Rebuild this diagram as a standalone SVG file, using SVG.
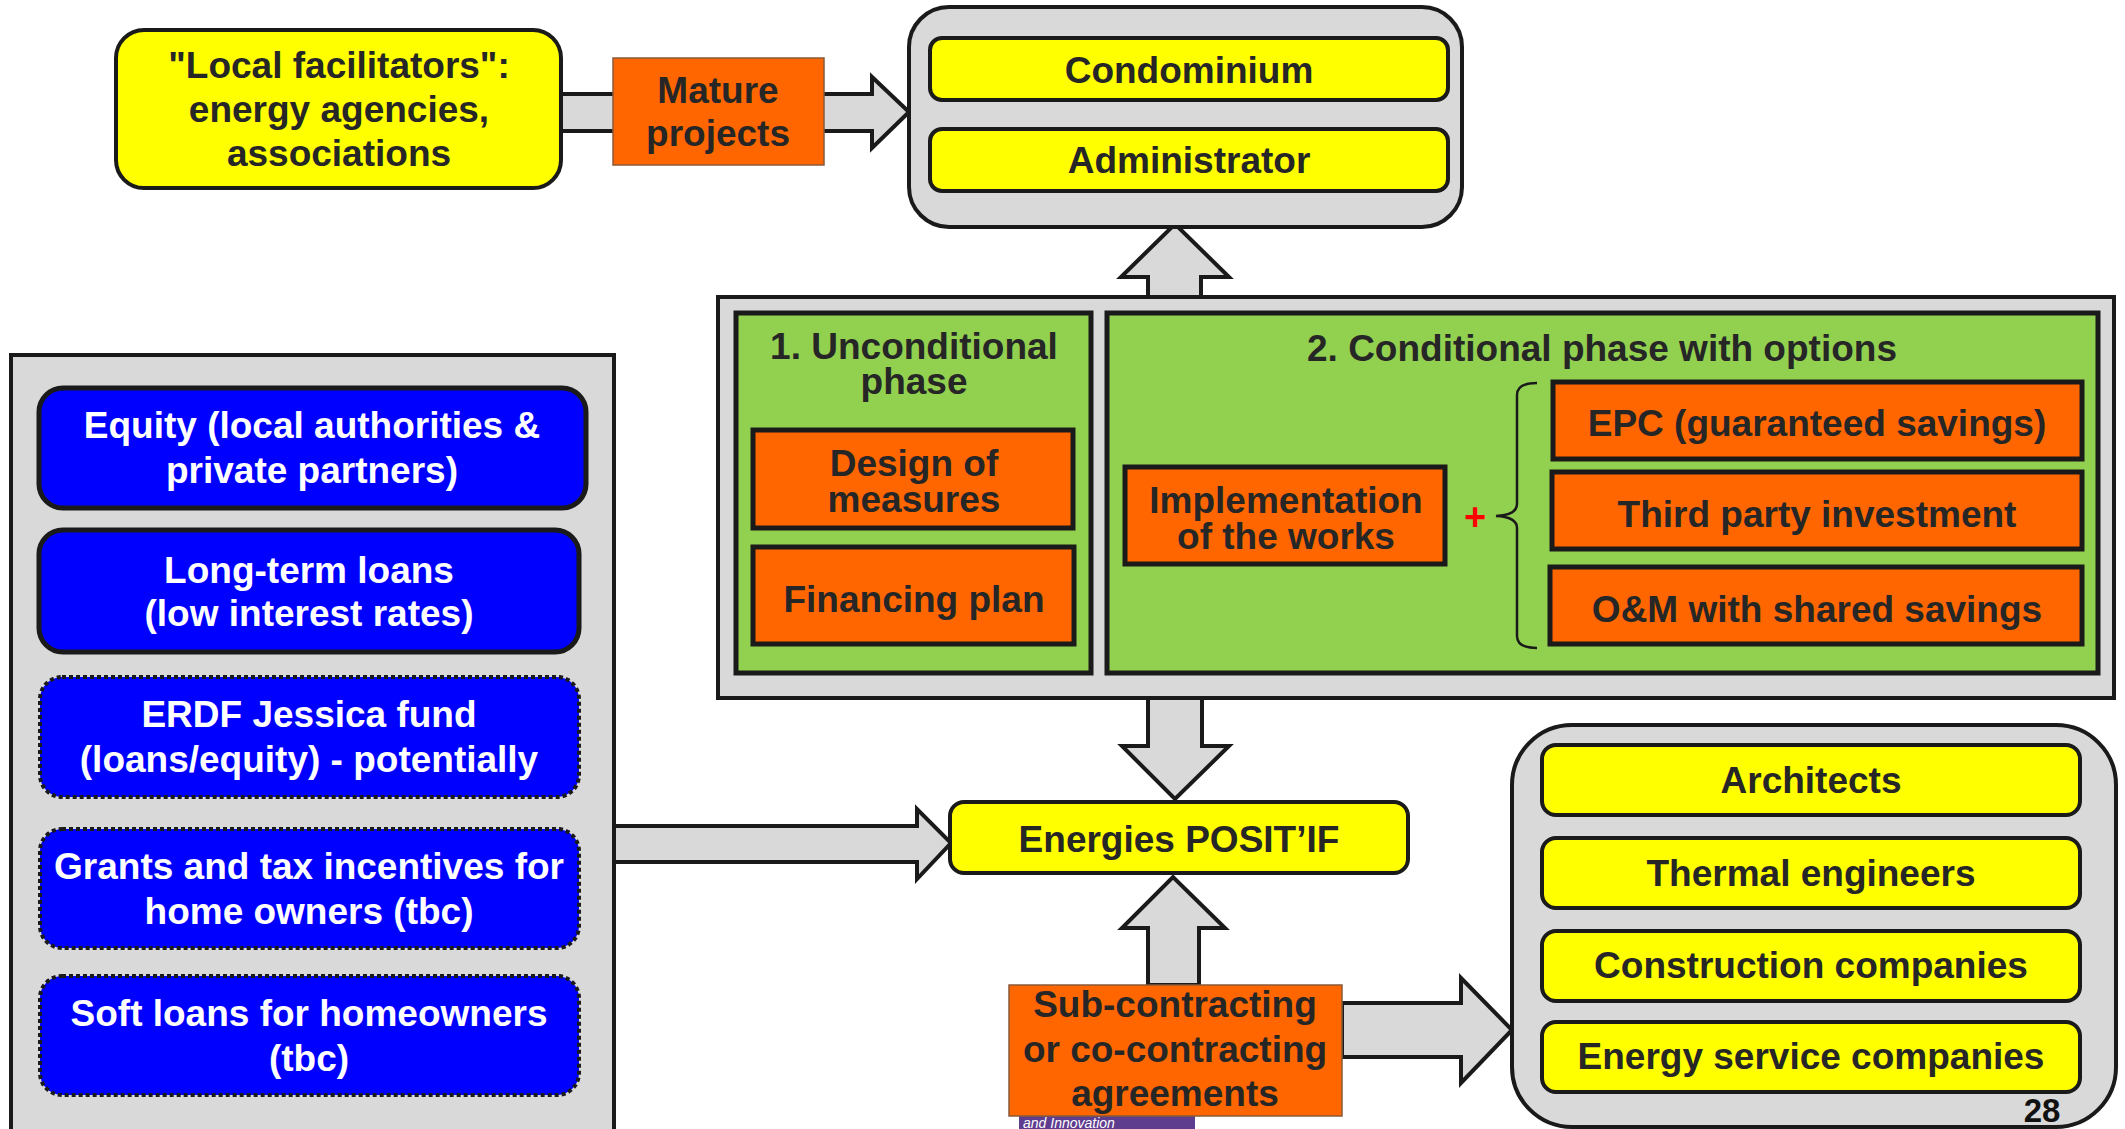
<svg xmlns="http://www.w3.org/2000/svg" width="2125" height="1129" viewBox="0 0 2125 1129">
<style>
text{font-family:"Liberation Sans",Arial,sans-serif;font-weight:bold;font-size:37px;fill:#262626;text-anchor:middle}
.w{fill:#ffffff}
.arr{fill:#d9d9d9;stroke:#1a1a1a;stroke-width:4;stroke-linejoin:miter}
.cont{fill:#d9d9d9;stroke:#1a1a1a;stroke-width:4}
.yel{fill:#ffff00;stroke:#1a1a1a;stroke-width:4}
.org{fill:#ff6600;stroke:#1a1a1a;stroke-width:5}
.orgt{fill:#ff6600;stroke:#8a5a3a;stroke-width:1.5}
.grn{fill:#92d050;stroke:#1a1a1a;stroke-width:5}
.blu{fill:#0000ff;stroke:#1a1a1a;stroke-width:5}
.bld{fill:#0000ff;stroke:#1a1a1a;stroke-width:4;stroke-dasharray:4 3}
</style>
<rect width="2125" height="1129" fill="#ffffff"/>
<g id="connectors">
<polygon class="arr" points="561,94 872,94 872,77 909,112 872,148 872,131 561,131"/>
<polygon class="arr" points="1148,297 1148,277 1121,277 1175,224 1229,277 1201,277 1201,297"/>
<polygon class="arr" points="1148,698 1148,746 1122,746 1175,799 1229,746 1202,746 1202,698"/>
<polygon class="arr" points="614,826 917,826 917,809 951,843 917,879 917,862 614,862"/>
<polygon class="arr" points="1148,985 1148,928 1122,928 1173,877 1225,928 1199,928 1199,985"/>
<polygon class="arr" points="1342,1003 1461,1003 1461,978 1512,1030 1461,1083 1461,1057 1342,1057"/>
</g>
<g id="local-facilitators">
<rect class="yel" x="116" y="30" width="445" height="158" rx="28"/>
<text x="339" y="78">"Local facilitators":</text>
<text x="339" y="122">energy agencies,</text>
<text x="339" y="166">associations</text>
</g>
<g id="mature-projects">
<rect class="orgt" x="613" y="58" width="211" height="107"/>
<text x="718" y="103">Mature</text>
<text x="718" y="146">projects</text>
</g>
<g id="condominium-group">
<rect class="cont" x="909" y="7" width="553" height="220" rx="40"/>
<g id="condominium">
<rect class="yel" x="930" y="38" width="518" height="62" rx="12"/>
<text x="1189" y="83">Condominium</text>
</g>
<g id="administrator">
<rect class="yel" x="930" y="129" width="518" height="62" rx="12"/>
<text x="1189" y="173">Administrator</text>
</g>
</g>
<g id="phases">
<rect class="cont" x="718" y="297" width="1396" height="401"/>
<g id="phase1">
<rect class="grn" x="736" y="313" width="355" height="360"/>
<text x="914" y="359">1. Unconditional</text>
<text x="914" y="394">phase</text>
</g>
<g id="design">
<rect class="org" x="753" y="430" width="320" height="98"/>
<text x="914" y="476">Design of</text>
<text x="914" y="512">measures</text>
</g>
<g id="financing">
<rect class="org" x="753" y="547" width="321" height="97"/>
<text x="914" y="612">Financing plan</text>
</g>
<g id="phase2">
<rect class="grn" x="1107" y="313" width="991" height="360"/>
<text x="1602" y="361">2. Conditional phase with options</text>
</g>
<g id="implementation">
<rect class="org" x="1125" y="467" width="320" height="97"/>
<text x="1286" y="513">Implementation</text>
<text x="1286" y="549">of the works</text>
</g>
<text x="1475" y="530" style="fill:#ff0000;font-size:38px">+</text>
<path d="M1537,383 Q1517,383 1517,395 L1517,504 Q1517,515 1496,516 Q1517,517 1517,528 L1517,636 Q1517,648 1537,648" fill="none" stroke="#1a1a1a" stroke-width="2.5"/>
<g id="epc">
<rect class="org" x="1553" y="382" width="529" height="77"/>
<text x="1817" y="436">EPC (guaranteed savings)</text>
</g>
<g id="third-party">
<rect class="org" x="1552" y="472" width="530" height="77"/>
<text x="1817" y="527">Third party investment</text>
</g>
<g id="om">
<rect class="org" x="1550" y="567" width="532" height="77"/>
<text x="1817" y="622">O&amp;M with shared savings</text>
</g>
</g>
<g id="financing-sources">
<rect class="cont" x="11" y="355" width="603" height="790"/>
<g id="equity">
<rect class="blu" x="39" y="388" width="547" height="120" rx="24"/>
<text class="w" x="312" y="438">Equity (local authorities &amp;</text>
<text class="w" x="312" y="483">private partners)</text>
</g>
<g id="long-term-loans">
<rect class="blu" x="39" y="530" width="540" height="122" rx="24"/>
<text class="w" x="309" y="583">Long-term loans</text>
<text class="w" x="309" y="626">(low interest rates)</text>
</g>
<g id="erdf">
<rect class="bld" x="40" y="677" width="539" height="120" rx="22"/>
<text class="w" x="309" y="727">ERDF Jessica fund</text>
<text class="w" x="309" y="772">(loans/equity) - potentially</text>
</g>
<g id="grants">
<rect class="bld" x="40" y="829" width="539" height="119" rx="22"/>
<text class="w" x="309" y="879">Grants and tax incentives for</text>
<text class="w" x="309" y="924">home owners (tbc)</text>
</g>
<g id="soft-loans">
<rect class="bld" x="40" y="976" width="539" height="119" rx="22"/>
<text class="w" x="309" y="1026">Soft loans for homeowners</text>
<text class="w" x="309" y="1071">(tbc)</text>
</g>
</g>
<g id="energies-positif">
<rect class="yel" x="950" y="802" width="458" height="71" rx="14"/>
<text x="1179" y="852">Energies POSIT’IF</text>
</g>
<g id="footer-strip">
<rect x="1019" y="1116" width="176" height="13" fill="#5e3c8e"/>
<text x="1023" y="1128" style="fill:#ffffff;font-size:14px;font-weight:normal;font-style:italic;text-anchor:start">and Innovation</text>
</g>
<g id="sub-contracting">
<rect class="orgt" x="1009" y="985" width="333" height="131"/>
<text x="1175" y="1017">Sub-contracting</text>
<text x="1175" y="1062">or co-contracting</text>
<text x="1175" y="1106">agreements</text>
</g>
<g id="contractors">
<rect class="cont" x="1512" y="725" width="604" height="402" rx="60"/>
<g id="architects">
<rect class="yel" x="1542" y="745" width="538" height="70" rx="14"/>
<text x="1811" y="793">Architects</text>
</g>
<g id="thermal">
<rect class="yel" x="1542" y="838" width="538" height="70" rx="14"/>
<text x="1811" y="886">Thermal engineers</text>
</g>
<g id="construction">
<rect class="yel" x="1542" y="931" width="538" height="70" rx="14"/>
<text x="1811" y="978">Construction companies</text>
</g>
<g id="esco">
<rect class="yel" x="1542" y="1022" width="538" height="70" rx="14"/>
<text x="1811" y="1069">Energy service companies</text>
</g>
<text x="2042" y="1122" style="font-size:33px;fill:#111">28</text>
</g>
</svg>
